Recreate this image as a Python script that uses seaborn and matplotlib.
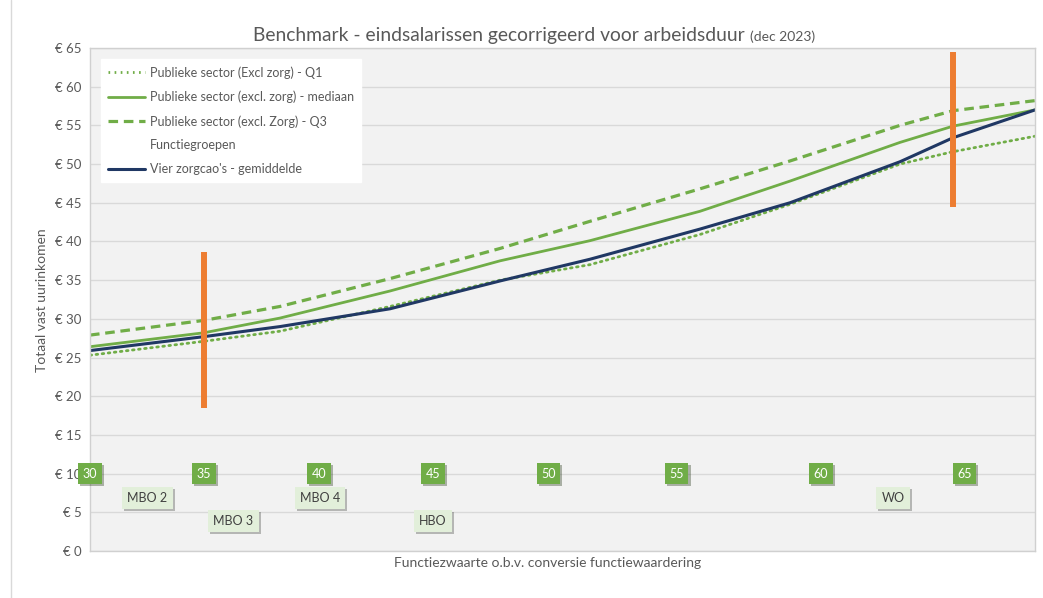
import numpy as np
import pandas as pd
import matplotlib
matplotlib.use('Agg')
import matplotlib.pyplot as plt
import matplotlib.patheffects as pe
from matplotlib.lines import Line2D
import seaborn as sns

# positie op de x-as (0-100 = breedte van het plotgebied)
positie = [0, 12.06, 20.1, 31.75, 43.4, 52.9, 64.55, 74.07, 85.71, 91.32, 100]
q1 = [25.3, 27.1, 28.4, 31.6, 35.0, 37.0, 40.9, 44.8, 50.0, 51.6, 53.6]
mediaan = [26.4, 28.2, 30.1, 33.6, 37.5, 40.1, 43.9, 47.8, 52.8, 54.9, 57.0]
q3 = [27.9, 29.8, 31.6, 35.2, 39.1, 42.6, 46.8, 50.4, 55.0, 56.9, 58.2]
zorgcao = [25.9, 27.7, 29.0, 31.3, 34.9, 37.7, 41.6, 45.0, 50.3, 53.4, 57.0]

# functiezwaarte-labels (groene blokjes op € 10)
fz_labels = ['30', '35', '40', '45', '50', '55', '60', '65']
fz_pos = [0, 12.06, 24.23, 36.3, 48.5, 62.1, 77.35, 92.5]
fz_y = 10

# functiegroepen
groepen = ['MBO 2', 'MBO 3', 'MBO 4', 'HBO', 'WO']
groep_pos = [6.08, 15.18, 24.3, 36.3, 84.97]
groep_y = [6.9, 3.9, 6.9, 3.9, 6.9]

# oranje markeringen
oranje_x = [12.06, 91.32]
oranje_onder = [18.5, 44.4]
oranje_boven = [38.6, 64.5]

GREEN = '#70ad47'
NAVY = '#203864'
ORANGE = '#ed7d31'
TXT = '#595959'

sns.set_theme(style='white')
plt.rcParams['font.family'] = ['Lato', 'DejaVu Sans']

df = pd.DataFrame({'positie': positie, 'q1': q1, 'mediaan': mediaan,
                   'q3': q3, 'zorgcao': zorgcao})

fig = plt.figure(figsize=(10.43, 5.98), dpi=100)
ax = fig.add_axes([90 / 1043, 1 - 551 / 598, 945 / 1043, 503 / 598])
ax.set_facecolor('#f2f2f2')

sns.lineplot(data=df, x='positie', y='q1', ax=ax, color=GREEN, lw=2,
             linestyle=(0, (0.6, 1.6)), dash_capstyle='round')
sns.lineplot(data=df, x='positie', y='mediaan', ax=ax, color=GREEN, lw=2)
sns.lineplot(data=df, x='positie', y='q3', ax=ax, color=GREEN, lw=2.3,
             linestyle=(0, (3, 1.8)))
sns.lineplot(data=df, x='positie', y='zorgcao', ax=ax, color=NAVY, lw=2.2)

ax.vlines(oranje_x, oranje_onder, oranje_boven, color=ORANGE, lw=4.3, zorder=5)

ax.set_xlim(0, 100)
ax.set_ylim(0, 65)
ax.set_yticks(np.arange(0, 66, 5))
ax.set_yticklabels([f'€ {v}' for v in range(0, 66, 5)], color=TXT, fontsize=9.5)
ax.set_xticks([])
ax.tick_params(axis='y', length=0, pad=6)
ax.set_xlabel('')
ax.set_ylabel('')
ax.grid(axis='y', color='#d9d9d9', lw=1)
ax.set_axisbelow(True)
for s in ax.spines.values():
    s.set_color('#d0d0d0')
    s.set_linewidth(1)

# groene functiezwaarte-blokjes
for lab, x in zip(fz_labels, fz_pos):
    t = ax.text(x, fz_y, lab, ha='center', va='center', color='white',
                fontsize=9, zorder=6, clip_on=False,
                bbox=dict(boxstyle='square,pad=0.35', fc=GREEN, ec='none'))
    t.get_bbox_patch().set_path_effects(
        [pe.withSimplePatchShadow(offset=(1.5, -1.5), alpha=0.35)])

for lab, x, y in zip(groepen, groep_pos, groep_y):
    t = ax.text(x, y, lab, ha='center', va='center', color='#404040',
                fontsize=9, zorder=6,
                bbox=dict(boxstyle='square,pad=0.4', fc='#e2efda', ec='none'))
    t.get_bbox_patch().set_path_effects(
        [pe.withSimplePatchShadow(offset=(1.5, -1.5), alpha=0.35)])

# legenda
handles = [
    Line2D([0], [0], color=GREEN, lw=2, linestyle=(0, (0.6, 1.6))),
    Line2D([0], [0], color=GREEN, lw=2),
    Line2D([0], [0], color=GREEN, lw=2.3, linestyle=(0, (3, 1.8))),
    Line2D([0], [0], color='none', lw=0),
    Line2D([0], [0], color=NAVY, lw=2.2),
]
labels = ['Publieke sector (Excl zorg) - Q1',
          'Publieke sector (excl. zorg) - mediaan',
          'Publieke sector (excl. Zorg) - Q3',
          'Functiegroepen',
          "Vier zorgcao's - gemiddelde"]
leg = ax.legend(handles, labels, loc='upper left', bbox_to_anchor=(0.005, 0.99),
                frameon=True, fancybox=False, facecolor='white', edgecolor='white',
                framealpha=1, fontsize=9, labelcolor=TXT, handlelength=3.0,
                handletextpad=0.4, labelspacing=0.95, borderpad=0.55)

# titels
fig.text(745 / 1043, 1 - 41 / 598, 'Benchmark - eindsalarissen gecorrigeerd voor arbeidsduur',
         ha='right', va='baseline', fontsize=13.9, color=TXT)
fig.text(750 / 1043, 1 - 41 / 598, '(dec 2023)', ha='left', va='baseline',
         fontsize=10, color=TXT)
fig.text(42 / 1043, 1 - 300 / 598, 'Totaal vast uurinkomen', rotation=90,
         ha='center', va='center', fontsize=10, color=TXT)
fig.text(548 / 1043, 1 - 563 / 598, 'Functiezwaarte o.b.v. conversie functiewaardering',
         ha='center', va='center', fontsize=10, color=TXT)

fig.add_artist(Line2D([10.5 / 1043, 10.5 / 1043], [0, 1], color='#d9d9d9', lw=1))

fig.savefig('out.png', dpi=100)
